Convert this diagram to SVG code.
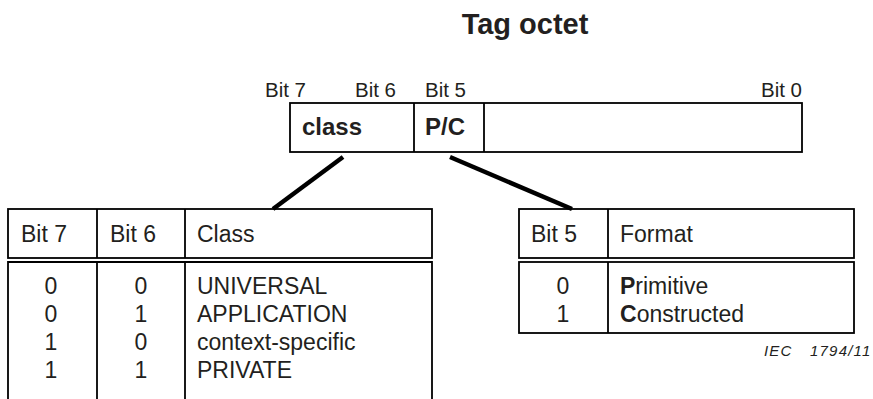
<svg xmlns="http://www.w3.org/2000/svg" width="873" height="399" viewBox="0 0 873 399">
<style>
text{font-family:"Liberation Sans",Arial,sans-serif;fill:#231f20}
.t{font-size:23px}
.lb{font-size:20.5px}
.b{font-weight:bold}
.c{text-anchor:middle}
.box{fill:none;stroke:#000;stroke-width:1.8}
.ln{stroke:#000;stroke-width:1.8}
.conn{stroke:#000;stroke-width:4.5;stroke-linecap:butt}
.iec{font-size:15px;font-style:italic;letter-spacing:1.2px}
</style>
<rect width="873" height="399" fill="#fff"/>
<text x="525" y="34" class="b c" style="font-size:29px">Tag octet</text>
<g id="octet">
<text x="265" y="97" class="lb">Bit 7</text>
<text x="355" y="97" class="lb">Bit 6</text>
<text x="425" y="97" class="lb">Bit 5</text>
<text x="802" y="97" class="lb" text-anchor="end">Bit 0</text>
<rect x="290" y="103" width="512" height="49" class="box"/>
<line x1="414" y1="103" x2="414" y2="152" class="ln"/>
<line x1="484" y1="103" x2="484" y2="152" class="ln"/>
<text x="302" y="135" class="b" style="font-size:24px">class</text>
<text x="425" y="135" class="b" style="font-size:24px">P/C</text>
</g>
<g id="connectors">
<line x1="343" y1="157" x2="273" y2="209" class="conn"/>
<line x1="450" y1="157" x2="572" y2="209" class="conn"/>
</g>
<g id="class-table">
<rect x="8" y="209" width="424" height="49" class="box"/>
<path d="M8,410 V262 H432 V410" class="box"/>
<line x1="97" y1="209" x2="97" y2="258" class="ln"/>
<line x1="185" y1="209" x2="185" y2="258" class="ln"/>
<line x1="97" y1="262" x2="97" y2="410" class="ln"/>
<line x1="185" y1="262" x2="185" y2="410" class="ln"/>
<text x="21" y="242" class="t">Bit 7</text>
<text x="110" y="242" class="t">Bit 6</text>
<text x="197" y="242" class="t">Class</text>
<text x="51" y="294" class="t c">0</text>
<text x="51" y="322" class="t c">0</text>
<text x="51" y="350" class="t c">1</text>
<text x="51" y="378" class="t c">1</text>
<text x="141" y="294" class="t c">0</text>
<text x="141" y="322" class="t c">1</text>
<text x="141" y="350" class="t c">0</text>
<text x="141" y="378" class="t c">1</text>
<text x="197" y="294" class="t">UNIVERSAL</text>
<text x="197" y="322" class="t">APPLICATION</text>
<text x="197" y="350" class="t">context-specific</text>
<text x="197" y="378" class="t">PRIVATE</text>
</g>
<g id="format-table">
<rect x="519" y="209" width="335" height="49" class="box"/>
<rect x="519" y="262" width="335" height="71" class="box"/>
<line x1="608" y1="209" x2="608" y2="258" class="ln"/>
<line x1="608" y1="262" x2="608" y2="333" class="ln"/>
<text x="531" y="242" class="t">Bit 5</text>
<text x="620" y="242" class="t">Format</text>
<text x="563" y="294" class="t c">0</text>
<text x="563" y="322" class="t c">1</text>
<text x="620" y="294" class="t"><tspan class="b">P</tspan>rimitive</text>
<text x="620" y="322" class="t"><tspan class="b">C</tspan>onstructed</text>
</g>
<text x="764" y="356" class="iec">IEC</text>
<text x="810" y="356" class="iec">1794/11</text>
</svg>
